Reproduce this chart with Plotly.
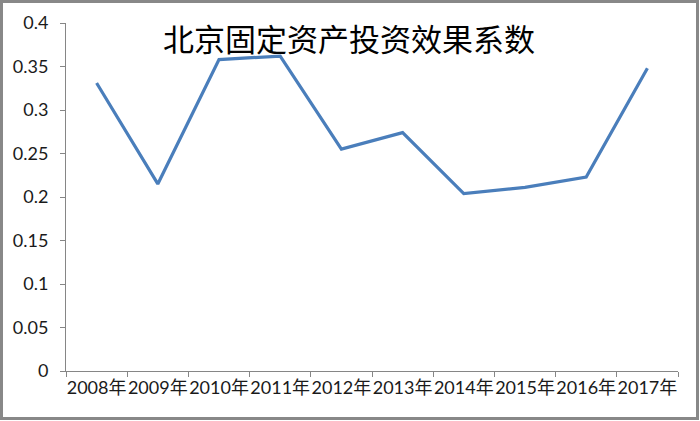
import plotly.graph_objects as go

categories = ["2008年", "2009年", "2010年", "2011年", "2012年", "2013年", "2014年", "2015年", "2016年", "2017年"]
values = [0.331, 0.215, 0.358, 0.362, 0.255, 0.274, 0.204, 0.211, 0.223, 0.348]
y_ticks = [0, 0.05, 0.1, 0.15, 0.2, 0.25, 0.3, 0.35, 0.4]
y_tick_labels = ["0", "0.05", "0.1", "0.15", "0.2", "0.25", "0.3", "0.35", "0.4"]
title_text = "北京固定资产投资效果系数"

W, H = 700, 421
L, R, T, B = 66, 22, 23, 50
pw, ph = W - L - R, H - T - B

def px_x(x):
    return (x - L) / pw

def px_y(y):
    return (H - B - y) / ph

fig = go.Figure()
fig.add_trace(go.Scatter(
    x=categories, y=values, mode="lines",
    line=dict(color="#4A7EBB", width=3.2),
    hoverinfo="skip", showlegend=False,
))

axis_color = "#868686"
font_fam = "Lato, 'Noto Sans CJK SC', sans-serif"
border = dict(color="#888888", width=3)
bx0, bx1, by0, by1 = px_x(1.5), px_x(697.5), px_y(418.5), px_y(1.5)

fig.update_layout(
    width=W, height=H,
    margin=dict(l=L, r=R, t=T, b=B, autoexpand=False),
    paper_bgcolor="white", plot_bgcolor="white",
    title=dict(text=title_text, x=349 / W, xanchor="center",
               y=1 - 40 / H, yanchor="middle", yref="container", xref="container",
               font=dict(family="'Noto Sans CJK SC', sans-serif", size=31, color="#000000")),
    xaxis=dict(
        type="category", showgrid=False, showline=True, linecolor=axis_color, linewidth=1,
        ticks="outside", ticklen=5, tickcolor=axis_color, tickson="boundaries",
        tickangle=0, automargin=False,
        tickfont=dict(family=font_fam, size=18, color="#1a1a1a"),
        range=[-0.5, len(categories) - 0.5], zeroline=False,
    ),
    yaxis=dict(
        range=[0, 0.4], tickvals=y_ticks, ticktext=y_tick_labels,
        showgrid=False, showline=True, linecolor=axis_color, linewidth=1,
        ticks="outside", ticklen=5, tickcolor=axis_color, automargin=False,
        tickfont=dict(family=font_fam, size=18, color="#1a1a1a"),
        ticklabelstandoff=8, zeroline=False,
    ),
    shapes=[
        dict(type="rect", xref="paper", yref="paper", x0=bx0, x1=bx1, y0=by0, y1=by1,
             line=border, fillcolor="rgba(0,0,0,0)", layer="above"),
    ],
)

fig.write_html(
    "out.html",
    config={"displayModeBar": False},
    post_script="document.body.style.margin='0';document.body.style.padding='0';document.body.style.overflow='hidden';",
)
